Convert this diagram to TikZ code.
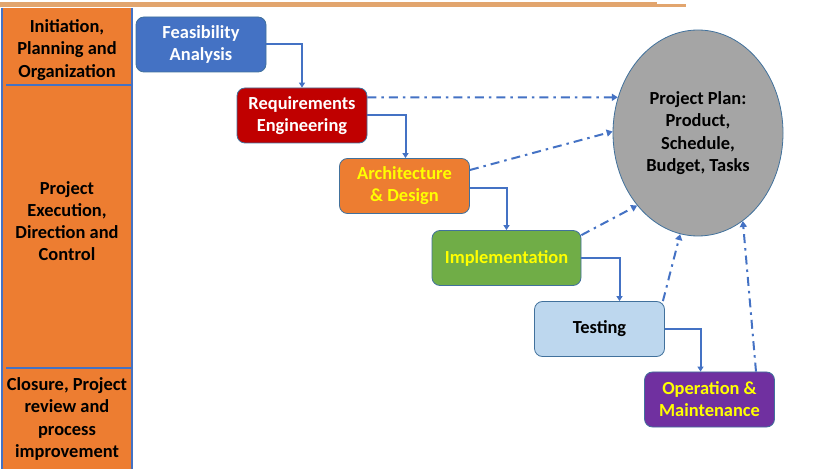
\documentclass[tikz,border=0pt]{standalone}
\usepackage{fontspec}
\setmainfont{Carlito}
\usetikzlibrary{arrows.meta,shapes.geometric}
\definecolor{cblue}{HTML}{4472C4}
\definecolor{cred}{HTML}{C00000}
\definecolor{corange}{HTML}{ED7D31}
\definecolor{cgreen}{HTML}{70AD47}
\definecolor{clight}{HTML}{BDD7EE}
\definecolor{cpurple}{HTML}{7030A0}
\definecolor{cyellow}{HTML}{FFFF00}
\definecolor{cgray}{HTML}{A5A5A5}
\definecolor{ctan}{HTML}{E2A56E}
\definecolor{cborder}{HTML}{41719C}
\tikzset{
  phase/.style={rounded corners=8bp, draw=cborder, line width=0.8bp, minimum width=130bp, minimum height=55bp, inner sep=0pt, align=center, font=\bfseries\fontsize{18.5}{22}\selectfont},
  lanetext/.style={align=center, font=\bfseries\fontsize{18.5}{22.3}\selectfont, text=black},
  flow/.style={draw=cblue, line width=2bp, -{Triangle[length=5bp,width=6bp]}},
  feed/.style={draw=cblue, line width=2bp, dash pattern=on 9bp off 5bp on 2.5bp off 5bp, -{Triangle[length=6bp,width=7bp]}},
  sep/.style={draw=cblue, line width=1.2bp}
}
\begin{document}
\begin{tikzpicture}[x=1bp,y=-1bp]
\useasboundingbox (0,0) rectangle (826,469);
% top line
\fill[ctan] (0,2) rectangle (657,7);
\fill[ctan] (657,4) rectangle (686,7);
% left column
\fill[corange] (2,8) rectangle (132,469);
\draw[sep] (2,8) -- (2,469);
\draw[sep] (132,8) -- (132,469);
\draw[sep] (6,85) -- (132,85);
\draw[sep] (6,368) -- (132,368);
\node[lanetext] (l1) at (67,50) {Initiation,\\Planning and\\Organization};
\node[lanetext] (l2) at (67,221) {Project\\Execution,\\Direction and\\Control};
\node[lanetext] (l3) at (67,419) {Closure, Project\\review and\\process\\improvement};
% phases
\node[phase, fill=cblue, text=white] (fa) at (201,44.5) {Feasibility\\Analysis};
\node[phase, fill=cred, text=white] (re) at (302,115.5) {Requirements\\Engineering};
\node[phase, fill=corange, text=cyellow] (ad) at (404.5,186) {Architecture\\\&~Design};
\node[phase, fill=cgreen, text=cyellow, minimum width=149bp] (im) at (506.5,258) {Implementation};
\node[phase, fill=clight, text=black] (te) at (599.5,329) {Testing};
\node[phase, fill=cpurple, text=cyellow] (om) at (709.5,399.5) {Operation \&\\Maintenance};
% project plan
\node[ellipse, fill=cgray, draw=cborder, line width=0.8bp, minimum width=170bp, minimum height=206bp, inner sep=0pt, align=center, font=\bfseries\fontsize{18.5}{22.3}\selectfont] (pp) at (698,133) {Project Plan:\\Product,\\Schedule,\\Budget, Tasks};
% flow connectors
\draw[flow] (fa.east) -| (re.north);
\draw[flow] (re.east) -| ([xshift=1bp]ad.north);
\draw[flow] ([yshift=-2bp]ad.east) -| (im.north);
\draw[flow] (im.east) -| ([xshift=20bp]te.north);
\draw[flow] (te.east) -| ([xshift=-9bp]om.north);
% feedback
\draw[feed] ([yshift=18bp]re.east) -- (pp.156);
\draw[feed] ([yshift=16bp]ad.east) -- (pp.179);
\draw[feed] ([yshift=-5bp]im.north east) -- (pp.230);
\draw[feed] ([xshift=-2bp]te.north east) -- (pp.260);
\draw[feed] ([xshift=46.5bp]om.north) -- (pp.297);
\end{tikzpicture}
\end{document}
